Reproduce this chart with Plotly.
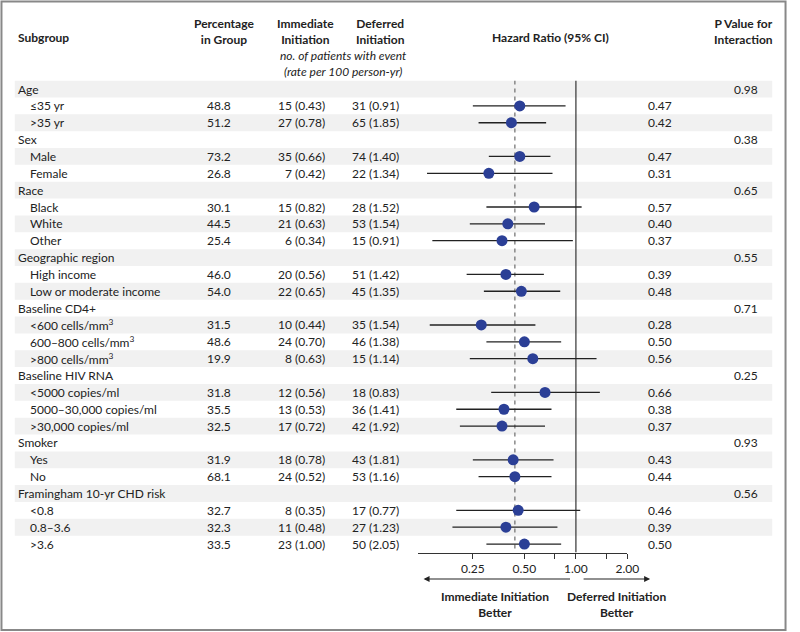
import plotly.graph_objects as go

# rows of the table, top to bottom (group headers have no values)
labels = ['Age', '≤35 yr', '>35 yr',
          'Sex', 'Male', 'Female',
          'Race', 'Black', 'White', 'Other',
          'Geographic region', 'High income', 'Low or moderate income',
          'Baseline CD4+', '<600 cells/mm<sup>3</sup>', '600–800 cells/mm<sup>3</sup>', '>800 cells/mm<sup>3</sup>',
          'Baseline HIV RNA', '<5000 copies/ml', '5000–30,000 copies/ml', '>30,000 copies/ml',
          'Smoker', 'Yes', 'No',
          'Framingham 10-yr CHD risk', '<0.8', '0.8–3.6', '>3.6']
pct = ['', '48.8', '51.2', '', '73.2', '26.8', '', '30.1', '44.5', '25.4', '', '46.0', '54.0',
       '', '31.5', '48.6', '19.9', '', '31.8', '35.5', '32.5', '', '31.9', '68.1', '', '32.7', '32.3', '33.5']
immediate = ['', '15 (0.43)', '27 (0.78)', '', '35 (0.66)', '7 (0.42)', '', '15 (0.82)', '21 (0.63)',
             '6 (0.34)', '', '20 (0.56)', '22 (0.65)', '', '10 (0.44)', '24 (0.70)', '8 (0.63)', '',
             '12 (0.56)', '13 (0.53)', '17 (0.72)', '', '18 (0.78)', '24 (0.52)', '', '8 (0.35)',
             '11 (0.48)', '23 (1.00)']
deferred = ['', '31 (0.91)', '65 (1.85)', '', '74 (1.40)', '22 (1.34)', '', '28 (1.52)', '53 (1.54)',
            '15 (0.91)', '', '51 (1.42)', '45 (1.35)', '', '35 (1.54)', '46 (1.38)', '15 (1.14)', '',
            '18 (0.83)', '36 (1.41)', '42 (1.92)', '', '43 (1.81)', '53 (1.16)', '', '17 (0.77)',
            '27 (1.23)', '50 (2.05)']
hr = [None, 0.47, 0.42, None, 0.47, 0.31, None, 0.57, 0.40, 0.37, None, 0.39, 0.48, None, 0.28, 0.50,
      0.56, None, 0.66, 0.38, 0.37, None, 0.43, 0.44, None, 0.46, 0.39, 0.50]
ci_low = [None, 0.25, 0.27, None, 0.31, 0.135, None, 0.30, 0.24, 0.145, None, 0.23, 0.29, None, 0.14,
          0.30, 0.24, None, 0.32, 0.20, 0.21, None, 0.25, 0.27, None, 0.20, 0.19, 0.30]
ci_high = [None, 0.87, 0.67, None, 0.71, 0.73, None, 1.08, 0.66, 0.96, None, 0.65, 0.81, None, 0.58,
           0.82, 1.32, None, 1.38, 0.72, 0.66, None, 0.74, 0.72, None, 1.06, 0.78, 0.82]
p_interaction = ['0.98', '', '', '0.38', '', '', '0.65', '', '', '', '0.55', '', '', '0.71', '', '', '',
                 '0.25', '', '', '', '0.93', '', '', '0.56', '', '', '']
overall_hr = 0.44
tick_vals = [0.25, 0.5, 0.75, 1.0, 1.5, 2.0]
tick_text = ['0.25', '0.50', '', '1.00', '', '2.00']

W, H = 800, 632
FONT = 'Lato'
TXT = '#222222'
n = len(labels)


def px(x):
    return x / W


def py(y):
    return 1 - y / H


def esc(s):
    return s.replace('<sup>', '[[').replace('</sup>', ']]').replace('<', '&lt;').replace(
        '>', '&gt;').replace('[[', '<sup>').replace(']]', '</sup>')


rows = list(range(n))
pts = [i for i in rows if hr[i] is not None]

fig = go.Figure()

# reference lines
fig.add_trace(go.Scatter(x=[overall_hr, overall_hr], y=[-0.5, n - 0.5], mode='lines',
                         line=dict(color='#777777', width=1.3, dash='4px,4px'), hoverinfo='skip'))
fig.add_trace(go.Scatter(x=[1, 1], y=[-0.5, n - 0.5], mode='lines',
                         line=dict(color='#333333', width=1.2), hoverinfo='skip'))

# estimates with 95% CI
fig.add_trace(go.Scatter(
    x=[hr[i] for i in pts], y=pts, mode='markers',
    marker=dict(color='#2b3f96', size=11),
    error_x=dict(type='data', symmetric=False,
                 array=[ci_high[i] - hr[i] for i in pts],
                 arrayminus=[hr[i] - ci_low[i] for i in pts],
                 width=0, thickness=1.3, color='#222222'),
    hoverinfo='skip'))

shapes = []
for i in rows:
    if i % 2 == 0:
        shapes.append(dict(type='rect', xref='paper', yref='y', x0=px(15), x1=px(784),
                           y0=i - 0.5, y1=i + 0.5, fillcolor='#f1f1f1', line_width=0, layer='below'))
shapes.append(dict(type='rect', xref='paper', yref='paper', x0=px(1.5), x1=px(797.5),
                   y0=py(630), y1=py(1.5), line=dict(color='#888888', width=2)))

ann = []
f = dict(family=FONT, size=12, color=TXT)
for i in rows:
    header = pct[i] == ''
    ann.append(dict(x=px(16 if header else 28), y=i, xref='paper', yref='y', text=esc(labels[i]),
                    xanchor='left', showarrow=False, font=f))
    if not header:
        ann.append(dict(x=px(237), y=i, xref='paper', yref='y', text=pct[i],
                        xanchor='right', showarrow=False, font=f))
        ann.append(dict(x=px(332), y=i, xref='paper', yref='y', text=immediate[i],
                        xanchor='right', showarrow=False, font=f))
        ann.append(dict(x=px(407), y=i, xref='paper', yref='y', text=deferred[i],
                        xanchor='right', showarrow=False, font=f))
        ann.append(dict(x=px(670), y=i, xref='paper', yref='y', text=f'{hr[i]:.2f}',
                        xanchor='center', showarrow=False, font=f))
    if p_interaction[i]:
        ann.append(dict(x=px(757), y=i, xref='paper', yref='y', text=p_interaction[i],
                        xanchor='center', showarrow=False, font=f))

# column headers
hdr = [('<b>Subgroup</b>', 16, 38, 'left'),
       ('<b>Percentage<br>in Group</b>', 227, 31, 'center'),
       ('<b>Immediate<br>Initiation</b>', 310, 31, 'center'),
       ('<b>Deferred<br>Initiation</b>', 386, 31, 'center'),
       ('<i>no. of patients with event<br>(rate per 100 person-yr)</i>', 349, 64, 'center'),
       ('<b>Hazard Ratio (95% CI)</b>', 559, 38, 'center'),
       ('<b>P Value for<br>Interaction</b>', 755, 31, 'center'),
       ('<b>Immediate Initiation<br>Better</b>', 503, 604, 'center'),
       ('<b>Deferred Initiation<br>Better</b>', 626, 604, 'center')]
for text, x, y, anchor in hdr:
    ann.append(dict(x=px(x), y=py(y), xref='paper', yref='paper', text=text, xanchor=anchor,
                    yanchor='middle', showarrow=False, font=f))

# direction arrows
for head, tail in [(430, 578), (660, 592)]:
    ann.append(dict(x=px(head), y=py(579), xref='paper', yref='paper', ax=tail - head, ay=0,
                    text='', showarrow=True, arrowhead=2, arrowsize=1, arrowwidth=1.2,
                    arrowcolor='#222222'))

fig.update_layout(
    width=W, height=H, margin=dict(l=0, r=0, t=0, b=0),
    paper_bgcolor='white', plot_bgcolor='rgba(0,0,0,0)', showlegend=False,
    shapes=shapes, annotations=ann,
    xaxis=dict(type='log', range=[-0.9245, 0.30103], domain=[px(424), px(637)],
               showline=True, linecolor='#333333', linewidth=1.2, ticks='outside', ticklen=5,
               tickcolor='#333333', tickvals=tick_vals, ticktext=tick_text, showgrid=False,
               zeroline=False, tickfont=dict(family=FONT, size=12, color=TXT)),
    yaxis=dict(range=[n - 0.5, -0.5], domain=[py(552.5), py(80.6)], visible=False),
)

# drop the page's default body margin and scrollbars so the figure fills the window
fig.write_html('out.html', config={'displayModeBar': False},
               post_script="document.body.style.margin='0';"
                           "document.body.style.overflow='hidden';"
                           "document.documentElement.style.overflow='hidden';")
